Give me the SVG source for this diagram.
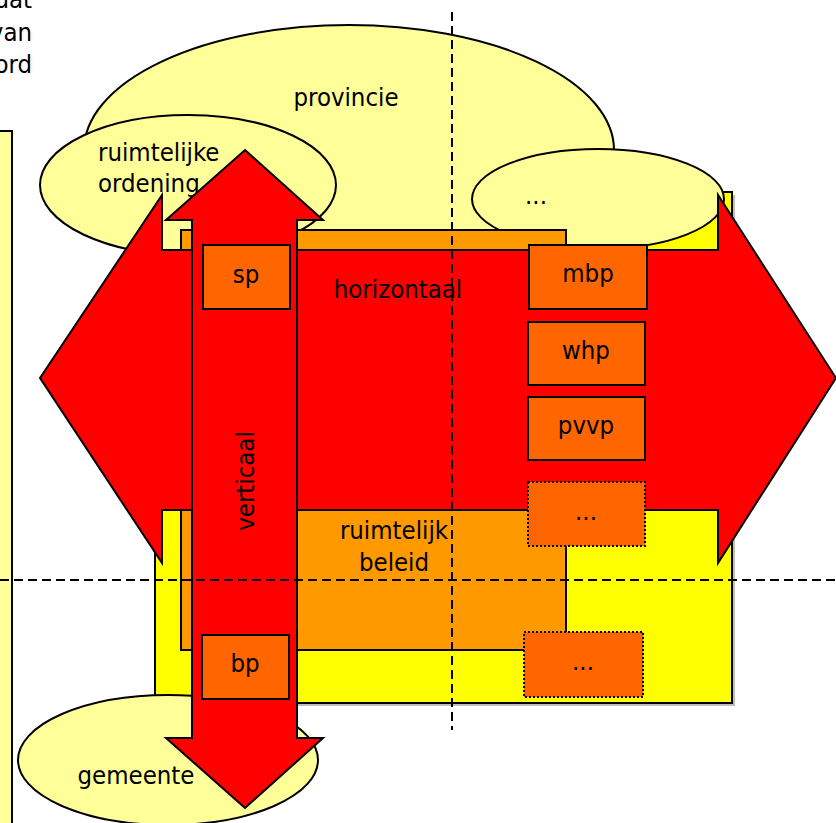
<svg xmlns="http://www.w3.org/2000/svg" width="836" height="823" viewBox="0 0 836 823">
  <style>
    text { font-family: "DejaVu Sans Condensed", "DejaVu Sans", Verdana, sans-serif; font-stretch: condensed; font-size: 25.5px; fill: #000; }
    .mid { text-anchor: middle; }
    .pale { fill: #FFFF99; stroke: #000; stroke-width: 2; }
    .plan { fill: #FF6600; stroke: #000; stroke-width: 2; }
    .plan-open { fill: #FF6600; stroke: #000; stroke-width: 2; stroke-dasharray: 2 2; }
    .arrow { fill: #FF0000; stroke: #000; stroke-width: 2; stroke-linejoin: miter; }
    .axis { fill: none; stroke: #000; stroke-width: 2; stroke-dasharray: 9 5; }
  </style>

  <rect width="836" height="823" fill="#FFFFFF"/>

  <!-- text running in from the left -->
  <g id="side-text">
    <text x="32" y="8" text-anchor="end">dat</text>
    <text x="32" y="41" text-anchor="end">van</text>
    <text x="32" y="73" text-anchor="end">ord</text>
  </g>

  <!-- side panel -->
  <g id="side-panel">
    <rect x="-10" y="131" width="22" height="700" class="pale"/>
  </g>

  <!-- yellow field -->
  <g id="field">
    <rect x="158" y="195" width="577" height="511" fill="#BFBFBF"/>
    <rect x="155" y="192" width="577" height="511" fill="#FFFF00" stroke="#000" stroke-width="2"/>
  </g>

  <g id="provincie">
    <ellipse cx="349" cy="150" rx="265" ry="125" class="pale"/>
    <text x="346" y="106" class="mid">provincie</text>
  </g>

  <g id="ruimtelijke-ordening">
    <ellipse cx="188" cy="185" rx="148" ry="70" class="pale"/>
    <text x="98" y="161">ruimtelijke</text>
    <text x="98" y="192">ordening</text>
  </g>

  <g id="overig-beleid">
    <ellipse cx="598" cy="199" rx="126" ry="50" class="pale"/>
    <text x="536" y="204" class="mid">...</text>
  </g>

  <g id="gemeente">
    <ellipse cx="168" cy="760" rx="150" ry="65" class="pale"/>
    <text x="136" y="784" class="mid">gemeente</text>
  </g>

  <!-- spatial policy block -->
  <g id="ruimtelijk-beleid">
    <rect x="181" y="230" width="385" height="420" fill="#FF9900" stroke="#000" stroke-width="2"/>
    <text x="394" y="539" class="mid">ruimtelijk</text>
    <text x="394" y="571" class="mid">beleid</text>
  </g>

  <!-- horizontal double arrow -->
  <g id="horizontaal">
    <polygon class="arrow" points="40,378 162,195 162,250 718,250 718,195 836,378 718,563 718,510 162,510 162,563"/>
    <text x="398" y="298" class="mid">horizontaal</text>
  </g>

  <!-- vertical double arrow -->
  <g id="verticaal">
    <polygon class="arrow" points="245,150 323,220 297,220 297,738 323,738 245,808 166,738 192,738 192,220 166,220"/>
    <text transform="translate(254,481) rotate(-90)" class="mid">verticaal</text>
  </g>

  <!-- plans -->
  <g id="sp">
    <rect x="203" y="245" width="87" height="64" class="plan"/>
    <text x="246" y="283" class="mid">sp</text>
  </g>
  <g id="bp">
    <rect x="202" y="635" width="87" height="64" class="plan"/>
    <text x="245" y="672" class="mid">bp</text>
  </g>
  <g id="mbp">
    <rect x="529" y="245" width="118" height="64" class="plan"/>
    <text x="588" y="282" class="mid">mbp</text>
  </g>
  <g id="whp">
    <rect x="528" y="322" width="117" height="63" class="plan"/>
    <text x="586" y="359" class="mid">whp</text>
  </g>
  <g id="pvvp">
    <rect x="528" y="397" width="117" height="63" class="plan"/>
    <text x="586" y="434" class="mid">pvvp</text>
  </g>
  <g id="plan-open-1">
    <rect x="528" y="482" width="117" height="64" class="plan-open"/>
    <text x="586" y="520" class="mid">...</text>
  </g>
  <g id="plan-open-2">
    <rect x="524" y="632" width="119" height="65" class="plan-open"/>
    <text x="583" y="670" class="mid">...</text>
  </g>

  <!-- axes -->
  <g id="axes">
    <line x1="452" y1="12" x2="452" y2="730" class="axis"/>
    <line x1="0" y1="580" x2="836" y2="580" class="axis"/>
  </g>
</svg>
